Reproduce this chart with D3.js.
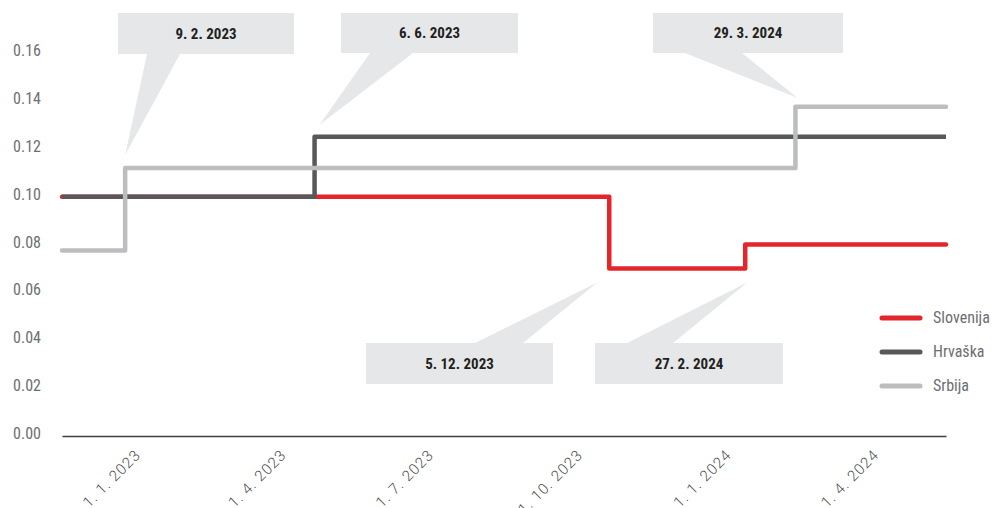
<!DOCTYPE html>
<html>
<head>
<meta charset="utf-8">
<script src="https://cdn.jsdelivr.net/npm/d3@7"></script>
<style>
  body { margin: 0; background: #fff; }
  svg { display: block; }
</style>
</head>
<body>
<script>
// data
var seriesNames = ["Slovenija", "Hrvaška", "Srbija"];
var slovenijaDates = ["2023-01-01", "2023-12-05", "2024-02-27", "2024-06-30"];
var slovenijaValues = [0.10, 0.07, 0.08, 0.08];
var hrvaskaDates = ["2023-01-01", "2023-06-06", "2024-06-30"];
var hrvaskaValues = [0.10, 0.125, 0.125];
var srbijaDates = ["2023-01-01", "2023-02-09", "2024-03-29", "2024-06-30"];
var srbijaValues = [0.0775, 0.112, 0.1375, 0.1375];
var xTickDates = ["2023-01-01", "2023-04-01", "2023-07-01", "2023-10-01", "2024-01-01", "2024-04-01"];
var yTicks = [0, 0.02, 0.04, 0.06, 0.08, 0.10, 0.12, 0.14, 0.16];
var noteDates = ["2023-02-09", "2023-06-06", "2023-12-05", "2024-02-27", "2024-03-29"];
var noteValues = [0.112, 0.125, 0.07, 0.07, 0.1375];

var width = 998, height = 508;
var colors = ["#e2262b", "#58585a", "#bcbdbf"];
var caps = ["round", "butt", "round"];
var parse = d3.timeParse("%Y-%m-%d");
var fmt = d3.timeFormat("%-d. %-m. %Y");

var series = [
  {name: seriesNames[0], dates: slovenijaDates, values: slovenijaValues},
  {name: seriesNames[1], dates: hrvaskaDates, values: hrvaskaValues},
  {name: seriesNames[2], dates: srbijaDates, values: srbijaValues}
];

var x = d3.scaleTime()
  .domain([parse("2023-01-01"), parse("2024-06-30")])
  .range([62, 946]);
var y = d3.scaleLinear().domain([0, 0.16]).range([436, 53]);

var svg = d3.select("body").append("svg")
  .attr("width", width)
  .attr("height", height);

// y labels (no axis line)
svg.append("g").selectAll("text")
  .data(yTicks)
  .enter().append("text")
  .attr("x", 41)
  .attr("y", function(d){ return y(d) + 3; })
  .attr("text-anchor", "end")
  .attr("font-family", "'Liberation Sans Narrow', 'Roboto Condensed', Roboto, sans-serif")
  .attr("font-size", 16)
  .attr("fill", "#6d6e71")
  .text(function(d){ return d3.format(".2f")(d); });

// x axis
var xAxis = svg.append("g")
  .attr("transform", "translate(0,436)")
  .call(d3.axisBottom(x).tickValues(xTickDates.map(parse)).tickFormat(fmt).tickSize(0));
xAxis.select(".domain").attr("stroke", "#3f3f40").attr("stroke-width", 1.6);
xAxis.selectAll("text")
  .attr("x", 0).attr("y", 0).attr("dy", 0)
  .attr("transform", "translate(79,20) rotate(-45)")
  .attr("text-anchor", "end")
  .attr("font-family", "Roboto, sans-serif")
  .attr("font-weight", 300)
  .attr("letter-spacing", 1)
  .attr("font-size", 15)
  .attr("fill", "#4d4d4f");

// callouts
var noteLayout = [
  {bx: 118, by: 13, bw: 176, bh: 41, b0: 147, b1: 180, top: false, dx: 0, dy: -13},
  {bx: 341, by: 13, bw: 177, bh: 40, b0: 370, b1: 413, top: false, dx: 5, dy: -12},
  {bx: 366, by: 343, bw: 187, bh: 41, b0: 475, b1: 523, top: true, dx: -12, dy: 14},
  {bx: 595, by: 343, bw: 188, bh: 41, b0: 627, b1: 673, top: true, dx: 2, dy: 14},
  {bx: 653, by: 13, bw: 190, bh: 40, b0: 685, b1: 742, top: false, dx: 2, dy: -9}
];
var notes = svg.append("g").selectAll("g")
  .data(noteDates.map(function(d, i){ return {date: parse(d), value: noteValues[i], l: noteLayout[i]}; }))
  .enter().append("g");
notes.append("rect")
  .attr("x", function(d){ return d.l.bx; })
  .attr("y", function(d){ return d.l.by; })
  .attr("width", function(d){ return d.l.bw; })
  .attr("height", function(d){ return d.l.bh; })
  .attr("fill", "#e6e7e8");
notes.append("path")
  .attr("fill", "#e6e7e8")
  .attr("d", function(d){
    var by = d.l.top ? d.l.by : d.l.by + d.l.bh;
    var tx = x(d.date) + d.l.dx, ty = y(d.value) + d.l.dy;
    return "M" + d.l.b0 + "," + by + "L" + d.l.b1 + "," + by + "L" + tx + "," + ty + "Z";
  });
notes.append("text")
  .attr("x", function(d){ return d.l.bx + d.l.bw / 2; })
  .attr("y", function(d){ return d.l.by + d.l.bh / 2 + 5; })
  .attr("text-anchor", "middle")
  .attr("font-family", "'Liberation Sans Narrow', 'Roboto Condensed', Roboto, sans-serif")
  .attr("font-weight", "bold")
  .attr("font-size", 15)
  .attr("fill", "#231f20")
  .text(function(d){ return fmt(d.date); });

// lines
var line = d3.line()
  .x(function(d){ return x(d[0]); })
  .y(function(d){ return y(d[1]); })
  .curve(d3.curveStepAfter);

svg.append("g").selectAll("path")
  .data(series)
  .enter().append("path")
  .attr("fill", "none")
  .attr("stroke", function(d, i){ return colors[i]; })
  .attr("stroke-width", 4.5)
  .attr("stroke-linejoin", "round")
  .attr("stroke-linecap", function(d, i){ return caps[i]; })
  .attr("d", function(s){ return line(s.dates.map(function(d, i){ return [parse(d), s.values[i]]; })); });

// legend
var legend = svg.append("g").selectAll("g")
  .data(seriesNames)
  .enter().append("g")
  .attr("transform", function(d, i){ return "translate(882," + (318 + i * 34) + ")"; });
legend.append("line")
  .attr("x1", 0).attr("x2", 38)
  .attr("stroke", function(d, i){ return colors[i]; })
  .attr("stroke-width", 5)
  .attr("stroke-linecap", "round");
legend.append("text")
  .attr("x", 51)
  .attr("y", 5)
  .attr("font-family", "'Liberation Sans Narrow', 'Roboto Condensed', Roboto, sans-serif")
  .attr("font-size", 16)
  .attr("fill", "#6d6e71")
  .text(function(d){ return d; });
</script>
</body>
</html>
